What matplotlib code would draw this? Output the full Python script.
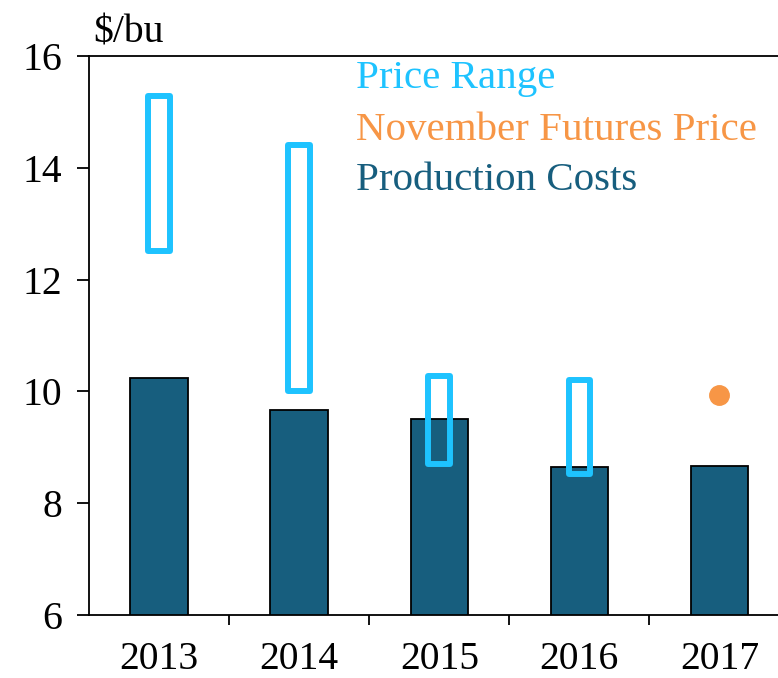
import matplotlib
matplotlib.use("Agg")
import matplotlib.pyplot as plt
from matplotlib.patches import Rectangle
import numpy as np

plt.rcParams['font.family'] = ['Liberation Serif', 'DejaVu Serif']

# --- data ---
years = ["2013", "2014", "2015", "2016", "2017"]
production_costs = [10.24, 9.67, 9.51, 8.65, 8.67]
range_low = [12.52, 10.0, 8.70, 8.52]
range_high = [15.28, 14.40, 10.28, 10.20]
futures_year = "2017"
futures_price = 9.94

dark_blue = "#175E7E"
cyan = "#1EC3FF"
orange = "#F79646"

fig = plt.figure(figsize=(7.78, 6.78), dpi=100)
ax = fig.add_axes([0.1144, 0.0929, 0.9004, 0.8245])

x = np.arange(len(years))

# production cost bars
ax.bar(x, production_costs, width=0.41, bottom=0, color=dark_blue,
       edgecolor="black", linewidth=1.3, zorder=2)

# price range boxes (hollow)
box_w = 0.155
for i, (lo, hi) in enumerate(zip(range_low, range_high)):
    ax.add_patch(Rectangle((x[i] - box_w / 2, lo), box_w, hi - lo,
                           fill=False, edgecolor=cyan, linewidth=4.3,
                           joinstyle="round", zorder=3))

# november futures price
ax.plot(years.index(futures_year), futures_price, "o", color=orange,
        markersize=14, zorder=4)

ax.set_ylim(6, 16)
ax.set_xlim(-0.5, len(years) - 0.5)
ax.set_yticks([6, 8, 10, 12, 14, 16])
ax.set_xticks(x)
ax.set_xticklabels(years)
ax.set_xticks(np.arange(0.5, len(years) - 0.5, 1), minor=True)

ax.tick_params(axis="y", direction="out", length=8.5, width=1.3,
               labelsize=28.5, pad=11)
ax.tick_params(axis="x", which="major", length=0, labelsize=28.5, pad=19)
ax.tick_params(axis="x", which="minor", direction="out", length=7, width=1.3)

for side in ["left", "bottom", "top", "right"]:
    ax.spines[side].set_linewidth(1.3)

# unit label
ax.text(0.006, 1.025, "$/bu", transform=ax.transAxes, fontsize=28.5,
        va="baseline", ha="left")

# legend as coloured text
ax.text(0.381, 0.943, "Price Range", color=cyan, transform=ax.transAxes,
        fontsize=29.5, va="baseline")
ax.text(0.381, 0.850, "November Futures Price", color=orange,
        transform=ax.transAxes, fontsize=29.5, va="baseline")
ax.text(0.381, 0.760, "Production Costs", color=dark_blue,
        transform=ax.transAxes, fontsize=29.5, va="baseline")

fig.savefig("out.png", dpi=100)
